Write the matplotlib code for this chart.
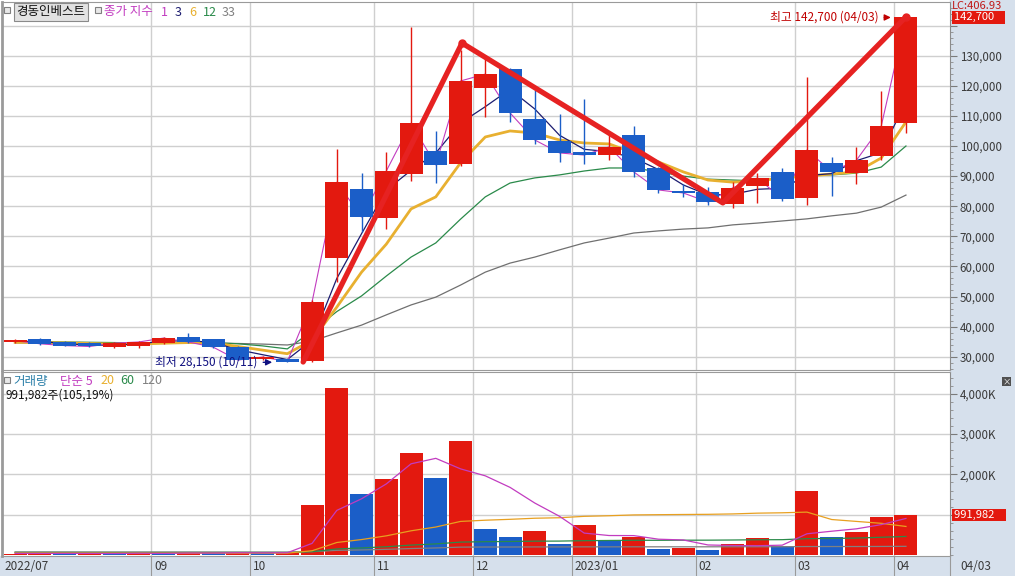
import numpy as np
import pandas as pd
import matplotlib
matplotlib.use('Agg')
import matplotlib.pyplot as plt
import matplotlib.transforms as mtransforms
from matplotlib.patches import Rectangle
from matplotlib.ticker import MultipleLocator, FuncFormatter

plt.rcParams['font.family'] = ['Noto Sans CJK KR', 'DejaVu Sans']

# 주봉 데이터 (2022-07-25 ~ 2023-04-03)
weeks = pd.date_range('2022-07-25', '2023-04-03', freq='W-MON')

opens = [35000, 35900, 34900, 34500, 33300, 33400, 34600, 36500, 35900, 33200, 29300, 29200,
         28500, 62800, 85700, 76100, 90700, 98300, 94000, 119300, 125600, 109000, 101700, 98000,
         97000, 103700, 92700, 85100, 84700, 80700, 86700, 91400, 82700, 94400, 91000, 96700, 107600]
highs = [35800, 36100, 35200, 34800, 34900, 35200, 36700, 37900, 36000, 33500, 30300, 29400,
         48800, 99000, 91000, 98000, 139500, 105000, 132000, 128900, 126000, 118600, 110600, 115600,
         103700, 106600, 93000, 87400, 86400, 88000, 91000, 92700, 122900, 96300, 99700, 118300, 142700]
lows = [34700, 34000, 33400, 33200, 33000, 33000, 34300, 34500, 33000, 28800, 29000, 28150,
        28300, 54800, 71400, 72400, 88400, 87700, 93500, 109600, 108000, 100600, 94700, 94000,
        95300, 89700, 84400, 83100, 80400, 79400, 81000, 81700, 80400, 83400, 87400, 95300, 104300]
closes = [35300, 34300, 33700, 33400, 34500, 34900, 36200, 34900, 33200, 28900, 29900, 28400,
          48200, 88000, 76400, 91700, 107600, 93700, 121600, 123900, 111000, 102000, 97700, 97000,
          99700, 91400, 85400, 84400, 81400, 86100, 89400, 82400, 98700, 91400, 95300, 106600, 142700]

# 종가 이동평균
ma3 = [35200, 35000, 34430, 33800, 33870, 34270, 35200, 35330, 34770, 32330, 30670, 29070,
       35500, 56000, 70870, 85370, 91900, 97670, 107630, 113070, 118830, 112300, 103570, 98900,
       98130, 96030, 92170, 87070, 83730, 83970, 85630, 85970, 90170, 90830, 95130, 97770, 114870]
ma6 = [34800, 34700, 34600, 34400, 34200, 34200, 34500, 34700, 34600, 33400, 32200, 31000,
       35500, 46500, 58100, 67400, 79100, 83100, 94400, 103000, 105000, 104300, 102000, 101000,
       100700, 97700, 94700, 91400, 88700, 88000, 88400, 89400, 90000, 90700, 91400, 96000, 108000]
ma12 = [35000, 35000, 34900, 34800, 34700, 34600, 34600, 34700, 34700, 34300, 33600, 32600,
        38500, 45000, 50200, 56800, 63100, 67800, 75700, 83100, 87700, 89400, 90400, 91700,
        92700, 92700, 91400, 90000, 89000, 88700, 88400, 89700, 90400, 90400, 91000, 93000, 100000]
ma33 = [34600, 34600, 34500, 34500, 34400, 34400, 34400, 34500, 34500, 34400, 34200, 33900,
        35200, 37900, 40500, 43900, 47200, 49800, 53800, 58100, 61100, 63100, 65500, 67800,
        69400, 71100, 71800, 72400, 72800, 73800, 74400, 75100, 75800, 76800, 77700, 79700, 83700]

# 거래량 (천주)
vol = [20, 55, 30, 45, 35, 55, 30, 80, 40, 75, 40, 45, 1240, 4135, 1510, 1885, 2540, 1920, 2830,
       645, 455, 595, 275, 745, 345, 445, 150, 180, 125, 275, 420, 220, 1590, 445, 570, 940, 992]
vol_ma5 = [40, 40, 40, 40, 37, 44, 39, 49, 48, 56, 53, 56, 288, 1107, 1394, 1763, 2262, 2398, 2137,
           1964, 1678, 1289, 960, 543, 483, 481, 392, 373, 249, 235, 230, 244, 526, 590, 649, 753, 907]
vol_ma20 = [50, 50, 49, 49, 48, 48, 47, 47, 47, 47, 46, 46, 105, 310, 383, 475, 600, 694, 833,
            863, 885, 912, 924, 959, 974, 994, 1000, 1005, 1009, 1019, 1038, 1047, 1064, 880, 833, 786, 708]
vol_ma60 = [65, 65, 64, 64, 63, 63, 63, 63, 63, 63, 62, 62, 82, 150, 175, 205, 245, 275, 320,
            330, 335, 343, 345, 355, 360, 365, 365, 367, 368, 372, 378, 380, 405, 410, 420, 440, 460]
vol_ma120 = [75, 75, 75, 74, 74, 74, 74, 74, 73, 73, 73, 73, 82, 115, 125, 140, 160, 175, 195,
             198, 198, 200, 200, 202, 202, 203, 203, 203, 203, 204, 205, 205, 210, 210, 210, 212, 215]
last_vol = 991982

# 추세선 (주차 인덱스, 가격)
trend_x = [11.64, 18.06, 28.6, 36.0]
trend_y = [28250, 134200, 81100, 142900]

RED = '#e3190f'
BLUE = '#1b5ec8'
BG = '#d6e0ec'
GRID = '#cfcfcf'
MAGENTA = '#c23cc0'
NAVY = '#1c1c70'
GOLD = '#e8b030'
GREEN = '#2a8a4a'
GRAY = '#707070'

W, H = 1015, 576


def fx(x):
    return x / W


def fy(y):
    return 1 - y / H


x = np.arange(len(weeks))
o = np.array(opens)
c = np.array(closes)
up = c >= o
ccol = np.where(up, RED, BLUE)

fig = plt.figure(figsize=(W / 100, H / 100), dpi=100)
fig.patches.append(Rectangle((fx(950), 0), 1 - fx(950), 1, transform=fig.transFigure,
                             color=BG, zorder=-10))
fig.patches.append(Rectangle((0, 0), 1, fy(556), transform=fig.transFigure, color=BG,
                             zorder=-10))

ax1 = fig.add_axes([fx(2), fy(370), fx(950) - fx(2), fy(2) - fy(370)])
ax2 = fig.add_axes([fx(2), fy(556), fx(950) - fx(2), fy(372) - fy(556)])

xlim = (-0.53, 37.78)

# 월 구분
month_pos = []
month_lab = []
for i, d in enumerate(weeks):
    if i == 0:
        continue
    if d.month != weeks[i - 1].month and i > 3:
        month_pos.append(i - 0.5)
        month_lab.append(f'{d.year}/01' if d.month == 1 else f'{d.month:02d}')

for ax in (ax1, ax2):
    ax.set_xlim(*xlim)
    ax.set_xticks([])
    for p in month_pos:
        ax.axvline(p, color=GRID, lw=1, zorder=0)
    for s in ('left', 'top', 'bottom'):
        ax.spines[s].set_color('#9a9a9a')
    ax.spines['left'].set_linewidth(2)
    ax.spines['right'].set_color('#8c8c8c')
    ax.yaxis.tick_right()
    ax.tick_params(axis='y', which='major', length=5, width=0.8, color='#7a7a7a',
                   labelsize=8.3, labelcolor='#3a3a3a', pad=2)
    ax.tick_params(axis='y', which='minor', length=2.5, width=0.6, color='#8a8a8a')

# 가격 차트
ax1.set_ylim(25590, 147840)
ax1.set_yticks(range(30000, 150000, 10000))
ax1.yaxis.set_minor_locator(MultipleLocator(2000))
ax1.yaxis.set_major_formatter(FuncFormatter(lambda v, p: '' if v >= 140000 else f'{int(v):,}'))
for v in range(30000, 150000, 10000):
    ax1.axhline(v, color=GRID, lw=1, zorder=0)

ax1.plot(x, ma33, color=GRAY, lw=0.9, zorder=2)
ax1.plot(x, ma12, color=GREEN, lw=0.9, zorder=2)
ax1.plot(x, ma6, color=GOLD, lw=2, zorder=2)
ax1.plot(x, ma3, color=NAVY, lw=0.9, zorder=2)
ax1.plot(x, closes, color=MAGENTA, lw=0.8, zorder=2)

ax1.vlines(x, lows, highs, colors=ccol, lw=1, zorder=3)
body = np.maximum(np.abs(c - o), 600)
ax1.bar(x, body, bottom=np.minimum(o, c), width=0.93, color=ccol, zorder=3)

ax1.plot(trend_x, trend_y, color='#e62222', lw=3.8, solid_capstyle='round', zorder=5,
         marker='o', ms=5, markevery=[1, 3])

hi = int(np.argmax(highs))
lo = int(np.argmin(lows))
ax1.annotate(f'최고 {max(highs):,} ({weeks[hi]:%m/%d})', xy=(hi - 0.5, max(highs)),
             xytext=(hi - 1.1, max(highs)), ha='right', va='center', fontsize=8.5,
             color='#c00000', zorder=6,
             arrowprops=dict(arrowstyle='-|>', color='#c00000', lw=1, mutation_scale=9))
ax1.annotate(f'최저 {min(lows):,} (10/11)', xy=(lo - 0.5, min(lows)),
             xytext=(lo - 1.2, min(lows)), ha='right', va='center', fontsize=8.5,
             color='#101080', zorder=6,
             arrowprops=dict(arrowstyle='-|>', color='#101080', lw=1, mutation_scale=9))

tr1 = mtransforms.blended_transform_factory(ax1.transAxes, ax1.transData)
ax1.text(1.004, closes[-1], f'{closes[-1]:,}    ', transform=tr1, color='white', fontsize=8,
         va='center', ha='left', clip_on=False, zorder=7,
         bbox=dict(boxstyle='square,pad=0.12', fc=RED, ec='none'))
fig.text(fx(952), fy(1), 'LC:406.93', color='#c01818', fontsize=8, va='top', ha='left')

# 거래량 차트
vcol = [RED if i == 0 or vol[i] > vol[i - 1] else BLUE for i in range(len(vol))]
ax2.set_ylim(-25, 4540)
ax2.set_yticks([1000, 2000, 3000, 4000])
ax2.yaxis.set_minor_locator(MultipleLocator(200))
ax2.yaxis.set_major_formatter(FuncFormatter(lambda v, p: '' if v < 1500 else f'{int(v):,}K'))
for v in [1000, 2000, 3000, 4000]:
    ax2.axhline(v, color=GRID, lw=1, zorder=0)
ax2.bar(x, vol, width=0.93, color=vcol, zorder=2)
ax2.plot(x, vol_ma120, color='#808080', lw=0.9, zorder=3)
ax2.plot(x, vol_ma60, color=GREEN, lw=0.9, zorder=3)
ax2.plot(x, vol_ma20, color='#e8a020', lw=0.9, zorder=3)
ax2.plot(x, vol_ma5, color=MAGENTA, lw=0.9, zorder=3)

tr2 = mtransforms.blended_transform_factory(ax2.transAxes, ax2.transData)
ax2.text(1.004, vol[-1], f'{last_vol:,}    ', transform=tr2,
         color='white', fontsize=8, va='center', ha='left', clip_on=False, zorder=7,
         bbox=dict(boxstyle='square,pad=0.12', fc=RED, ec='none'))

# 패널 닫기 아이콘
fig.patches.append(Rectangle((fx(1002), fy(386)), 9 / W, 9 / H, transform=fig.transFigure,
                             fc='#505050', ec='none'))
fig.text(fx(1006.5), fy(381.5), '×', color='white', fontsize=6, va='center', ha='center')

# x축 (월 라벨)
trx = mtransforms.blended_transform_factory(ax2.transData, ax2.transAxes)
for p, lab in zip(month_pos, month_lab):
    ax2.plot([p, p], [0, -0.11], transform=trx, color='#9a9a9a', lw=0.8, clip_on=False)
    ax2.text(p + 0.12, -0.055, lab, transform=trx, fontsize=8.5, color='#3a3a3a',
             va='center', ha='left', clip_on=False)
fig.text(fx(4), fy(566), f'{weeks[0].year}/{weeks[0].month:02d}', fontsize=8.5,
         color='#3a3a3a', va='center', ha='left')
fig.text(fx(960), fy(566), f'{weeks[-1]:%m/%d}', fontsize=8.5, color='#3a3a3a',
         va='center', ha='left')
fig.add_artist(plt.Line2D([fx(950), fx(950)], [0, fy(556)], color='#9a9a9a', lw=0.8))


# 범례 (상단)
def square(xp, yp):
    fig.patches.append(Rectangle((fx(xp), fy(yp + 6)), 6 / W, 6 / H, transform=fig.transFigure,
                                 fc='#e8e8e8', ec='#808080', lw=0.8))


square(4, 7)
fig.text(fx(51), fy(12), '경동인베스트', fontsize=9, color='#111111', va='center', ha='center',
         bbox=dict(boxstyle='square,pad=0.2', fc='#e2e2e2', ec='#8a8a8a', lw=0.8))
square(95, 7)
legend_top = [('종가 지수', MAGENTA, 104), ('1', MAGENTA, 161), ('3', NAVY, 175),
              ('6', GOLD, 189), ('12', GREEN, 203), ('33', '#808080', 222)]
for t, col, xp in legend_top:
    fig.text(fx(xp), fy(12), t, fontsize=9, color=col, va='center', ha='left')

square(4, 377)
legend_bot = [('거래량', '#2a7fa8', 13), ('단순 5', MAGENTA, 60), ('20', GOLD, 100),
              ('60', GREEN, 120), ('120', '#808080', 142)]
for t, col, xp in legend_bot:
    fig.text(fx(xp), fy(381), t, fontsize=9, color=col, va='center', ha='left')
fig.text(fx(6), fy(395), '991,982주(105,19%)', fontsize=8.5, color='#111111', va='center',
         ha='left')

fig.savefig('out.png', dpi=100)
